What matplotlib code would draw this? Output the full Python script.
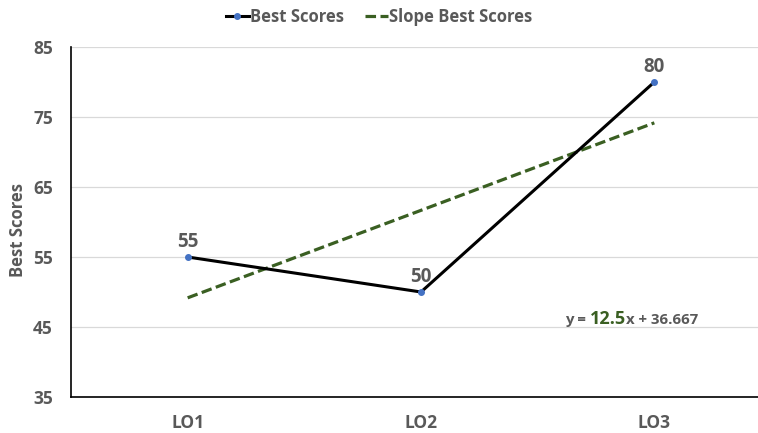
import matplotlib.pyplot as plt
from matplotlib.lines import Line2D
from matplotlib.transforms import offset_copy

plt.rcParams["font.family"] = ["Open Sans", "DejaVu Sans"]

categories = ["LO1", "LO2", "LO3"]
best_scores = [55, 50, 80]
slope = 12.5
intercept = 36.667

TEXT = "#595959"
GREEN = "#3A5F22"
BLUE = "#4472C4"
DASH = (0, (3.3, 1.4))

x = list(range(1, len(categories) + 1))
trend = [slope * xi + intercept for xi in x]

fig = plt.figure(figsize=(7.58, 4.33), dpi=100)
ax = fig.add_axes([71 / 758, 1 - 397 / 433, 700 / 758, 350 / 433])

ax.plot(x, best_scores, color="black", lw=2.2, marker="o", ms=4,
        mfc=BLUE, mec=BLUE, zorder=3)
ax.plot(x, trend, color=GREEN, lw=2.3, ls=DASH, zorder=2)

ax.set_xlim(0.5, 3.5)
ax.set_ylim(35, 85)
ax.set_yticks([35, 45, 55, 65, 75, 85])
ax.set_xticks(x)
ax.set_xticklabels(categories)
ax.tick_params(length=0, labelsize=12.5, labelcolor=TEXT)
for lab in ax.get_xticklabels() + ax.get_yticklabels():
    lab.set_fontweight("bold")
ax.tick_params(axis="y", pad=13)
ax.tick_params(axis="x", pad=12)
ax.grid(axis="y", color="#D9D9D9", lw=0.9)
ax.set_axisbelow(True)
for side in ("top", "right"):
    ax.spines[side].set_visible(False)
for side in ("left", "bottom"):
    ax.spines[side].set_color("black")
    ax.spines[side].set_linewidth(1.2)

ax.set_ylabel("Best Scores", fontsize=12, fontweight="bold", color=TEXT, va="center")
ax.yaxis.set_label_coords(-0.075, 0.477)

# data labels above each point
for xi, yi in zip(x, best_scores):
    ax.annotate(f"{yi}", (xi, yi), xytext=(0, 7), textcoords="offset points",
                ha="center", va="baseline", fontsize=13.5, fontweight="bold", color=TEXT)

# trendline equation, built from pieces so the slope can be larger and green
pieces = [("y = ", 10.8, TEXT), (f"{slope:g}", 13, GREEN), (f"x + {intercept:.3f}", 10.8, TEXT)]
fig.canvas.draw()
renderer = fig.canvas.get_renderer()
shift = 0.0
for s, size, col in pieces:
    tr = offset_copy(ax.transData, fig=fig, x=shift, y=0, units="dots")
    t = ax.text(2.617, 45.4, s, transform=tr, fontsize=size, fontweight="bold",
                color=col, ha="left", va="baseline")
    shift += t.get_window_extent(renderer).width

handles = [
    Line2D([], [], color="black", lw=2.2, marker="o", ms=4, mfc=BLUE, mec=BLUE),
    Line2D([], [], color=GREEN, lw=2.3, ls=DASH),
]
fig.legend(handles, ["Best Scores", "Slope Best Scores"], loc="center",
           bbox_to_anchor=(0.5, 1 - 17 / 433), ncol=2, frameon=False,
           handlelength=1.35, handletextpad=0.05, columnspacing=1.3,
           prop={"weight": "bold", "size": 12}, labelcolor=TEXT)

fig.savefig("out.png", dpi=100)
